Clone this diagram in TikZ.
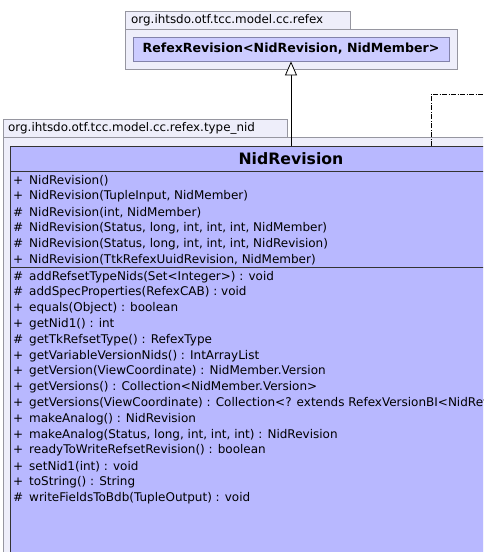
\documentclass[tikz,border=0pt]{standalone}
\usepackage{fontspec}
\setmainfont{DejaVu Sans}
\definecolor{pkgfill}{RGB}{238,238,250}
\definecolor{pkgdraw}{RGB}{150,150,160}
\definecolor{clsfill}{RGB}{184,184,255}
\definecolor{clsfilltop}{RGB}{204,204,255}
\definecolor{clsdrawtop}{RGB}{130,130,170}
\tikzset{
  pkgbox/.style={draw=pkgdraw, fill=pkgfill, line width=0.8pt},
  pkglabel/.style={anchor=west, inner sep=0pt, font=\fontsize{11.9}{14}\selectfont},
  clsbox/.style={draw=black!80, fill=clsfill, line width=0.9pt},
  row/.style={anchor=west, inner sep=0pt, font=\fontsize{12}{14}\selectfont},
  titletext/.style={inner sep=0pt, font=\fontsize{15.7}{18}\selectfont\bfseries},
  inherit/.style={draw=black, line width=0.8pt, -{Triangle[open, length=14pt, width=12pt, fill=white]}},
  depend/.style={draw=black, line width=0.8pt, dash pattern=on 5pt off 1.5pt on 1pt off 1.5pt}
}
\usetikzlibrary{arrows.meta}
\newcommand{\vis}[1]{\makebox[16pt][l]{#1}}
\begin{document}
\begin{tikzpicture}[x=1pt, y=-1pt]
\useasboundingbox (0,0) rectangle (483,552);
\clip (0,0) rectangle (483,552);
% top package
\draw[pkgbox] (125,11) rectangle (350,29);
\node[pkglabel] (pkgtoplabel) at (131,20) {org.ihtsdo.otf.tcc.model.cc.refex};
\draw[pkgbox] (125,29) rectangle (457,69);
\node[draw=clsdrawtop, fill=clsfilltop, line width=0.8pt, minimum width=316pt, minimum height=24pt, inner sep=0pt,
  font=\fontsize{12.6}{15}\selectfont\bfseries] (refex) at (291,49) {RefexRevision<NidRevision, NidMember>};
% lower package
\draw[pkgbox] (3,119) rectangle (287,137);
\node[pkglabel] (pkglowlabel) at (8,128) {org.ihtsdo.otf.tcc.model.cc.refex.type\_nid};
\draw[pkgbox] (3,137) rectangle (600,600);
% class
\node[clsbox, minimum width=562pt, minimum height=480pt, inner sep=0pt, anchor=north west] (nid) at (10,146) {};
\draw[black!80, line width=0.9pt] (10,171) -- (572,171);
\draw[black!80, line width=0.9pt] (10,267) -- (572,267);
\node[titletext] (title) at (291,158.5) {NidRevision};
% constructors
\node[row] (c1) at (13,180.7) {\vis{+}NidRevision()};
\node[row] (c2) at (13,196.5) {\vis{+}NidRevision(TupleInput, NidMember)};
\node[row] (c3) at (13,212.3) {\vis{\#}NidRevision(int, NidMember)};
\node[row] (c4) at (13,228.1) {\vis{\#}NidRevision(Status, long, int, int, int, NidMember)};
\node[row] (c5) at (13,243.9) {\vis{\#}NidRevision(Status, long, int, int, int, NidRevision)};
\node[row] (c6) at (13,259.7) {\vis{+}NidRevision(TtkRefexUuidRevision, NidMember)};
% methods
\node[row] (m1) at (13,276.7) {\vis{\#}addRefsetTypeNids(Set<Integer>) : void};
\node[row] (m2) at (13,292.5) {\vis{\#}addSpecProperties(RefexCAB) : void};
\node[row] (m3) at (13,308.3) {\vis{+}equals(Object) : boolean};
\node[row] (m4) at (13,324.1) {\vis{+}getNid1() : int};
\node[row] (m5) at (13,339.9) {\vis{\#}getTkRefsetType() : RefexType};
\node[row] (m6) at (13,355.7) {\vis{+}getVariableVersionNids() : IntArrayList};
\node[row] (m7) at (13,371.5) {\vis{+}getVersion(ViewCoordinate) : NidMember.Version};
\node[row] (m8) at (13,387.3) {\vis{+}getVersions() : Collection<NidMember.Version>};
\node[row] (m9) at (13,403.1) {\vis{+}getVersions(ViewCoordinate) : Collection<? extends RefexVersionBI<NidRevision>>};
\node[row] (m10) at (13,418.9) {\vis{+}makeAnalog() : NidRevision};
\node[row] (m11) at (13,434.7) {\vis{+}makeAnalog(Status, long, int, int, int) : NidRevision};
\node[row] (m12) at (13,450.5) {\vis{+}readyToWriteRefsetRevision() : boolean};
\node[row] (m13) at (13,466.3) {\vis{+}setNid1(int) : void};
\node[row] (m14) at (13,482.1) {\vis{+}toString() : String};
\node[row] (m15) at (13,497.9) {\vis{\#}writeFieldsToBdb(TupleOutput) : void};
% connectors
\draw[inherit] (nid.north -| refex.south) -- (refex.south);
\coordinate (dcorner) at (431,94);
\coordinate (dright) at (490,94);
\draw[depend] (nid.north -| dcorner) -- (dcorner) -- (dright);
\end{tikzpicture}
\end{document}
